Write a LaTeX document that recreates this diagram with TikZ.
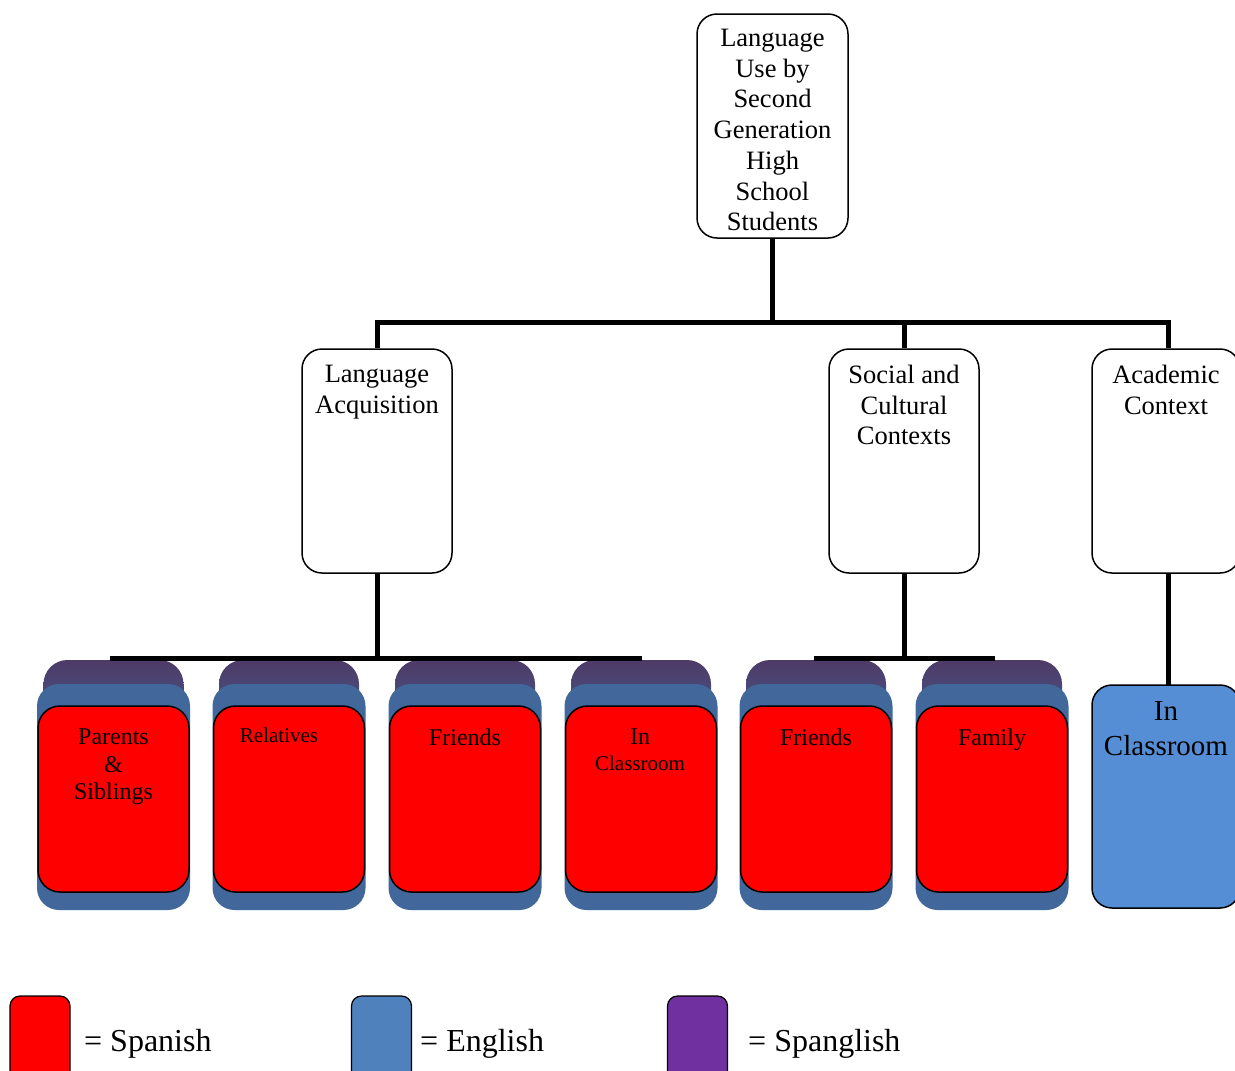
\documentclass[tikz,border=0pt]{standalone}
\usepackage{fontspec}
\setmainfont{Liberation Serif}
\definecolor{spanred}{HTML}{FF0000}
\definecolor{acblue}{HTML}{558ED5}
\definecolor{legblue}{HTML}{4F81BD}
\definecolor{legpurple}{HTML}{7030A0}
\definecolor{stackblue}{HTML}{41679B}
\definecolor{stackpurple}{HTML}{4E3A66}
\begin{document}
\begin{tikzpicture}[x=1pt,y=-1pt,
  box/.style={draw=black, line width=1.5pt, rounded corners=20pt, fill=white,
    minimum width=151pt, minimum height=224pt, inner sep=0pt},
  conn/.style={line width=5pt},
  lbl/.style={align=center, anchor=north, inner sep=0pt,
    font=\fontsize{26.5}{30.7}\selectfont},
  purplelayer/.style={rounded corners=24pt, minimum width=140pt, minimum height=90pt,
    inner sep=0pt, top color=stackpurple, bottom color=stackblue, draw=none},
  bluelayer/.style={rounded corners=22pt, minimum width=153pt, minimum height=226pt,
    inner sep=0pt, fill=stackblue, draw=none},
  redbox/.style={rounded corners=22pt, minimum width=151pt, minimum height=186pt,
    inner sep=0pt, fill=spanred, draw=black, line width=1.5pt},
  stxt/.style={align=center, anchor=north, inner sep=0pt,
    font=\fontsize{24}{27.5}\selectfont},
  stxts/.style={align=center, anchor=north, inner sep=0pt,
    font=\fontsize{21}{27.5}\selectfont},
  legbox/.style={rounded corners=10pt, minimum width=60pt, minimum height=90pt,
    inner sep=0pt, draw=black, line width=1.2pt},
  legtxt/.style={anchor=west, inner sep=0pt, font=\fontsize{32}{36}\selectfont}
]
\useasboundingbox (0,0) rectangle (1235,1071);
\clip (0,0) rectangle (1235,1071);

% top box
\node[box] (top) at (772.5,126) {};
\node[lbl] (toptxt) at (772.5,29) {Language\\Use by\\Second\\Generation\\High\\School\\Students};

% level 2
\node[box, minimum width=150pt] (la) at (377,461) {};
\node[lbl] (latxt) at (377,365) {Language\\Acquisition};
\node[box, minimum width=150pt] (sc) at (904,461) {};
\node[lbl] (sctxt) at (904,365) {Social and\\Cultural\\Contexts};
\node[box, minimum width=148pt] (ac) at (1166,461) {};
\node[lbl] (actxt) at (1166,365) {Academic\\Context};

% connectors level 1
\coordinate (j1) at (772.5,322);
\draw[conn] (top.south) -- (j1);
\draw[conn] (la.north) -- (la.north |- j1) -- (1168,322) coordinate (j2) -- (j2 |- ac.north);
\draw[conn] (sc.north) -- (sc.north |- j1);

% stacked boxes
\foreach \n/\c in {1/113.5,2/289,3/465,4/641,5/816,6/992}{
  \node[purplelayer] (p\n) at (\c,705) {};
  \node[bluelayer] (q\n) at (\c,797) {};
  \node[redbox] (r\n) at (\c,799) {};
}
\node[stxt] (t1) at (113.5,729) {Parents\\\&\\Siblings};
\node[stxts] (t2) at (279,728) {Relatives};
\node[stxt] (t3) at (465,729) {Friends};
\node[stxt] (t4a) at (640,729) {In};
\node[stxts] (t4b) at (640,756) {Classroom};
\node[stxt] (t5) at (816,729) {Friends};
\node[stxt] (t6) at (992,729) {Family};

% academic in classroom
\node[box, fill=acblue, minimum width=148pt, minimum height=223pt] (aic) at (1166,796.5) {};
\node[lbl, font=\fontsize{29}{35}\selectfont] (aictxt) at (1166,701) {In\\Classroom};

% connectors level 2
\coordinate (b1) at (377,658);
\draw[conn] (la.south) -- (b1);
\draw[conn] (110,658) -- (642,658);
\coordinate (b2) at (904,658);
\draw[conn] (sc.south) -- (b2);
\draw[conn] (814,658) -- (995,658);
\draw[conn] (ac.south -| 1168,0) -- (1168,685);

% legend
\node[legbox, fill=spanred] (lg1) at (40,1041) {};
\node[legtxt] (lt1) at (84,1044) {= Spanish};
\node[legbox, fill=legblue] (lg2) at (381.5,1041) {};
\node[legtxt] (lt2) at (420,1044) {= English};
\node[legbox, fill=legpurple] (lg3) at (697.5,1041) {};
\node[legtxt] (lt3) at (748,1044) {= Spanglish};
\end{tikzpicture}
\end{document}
